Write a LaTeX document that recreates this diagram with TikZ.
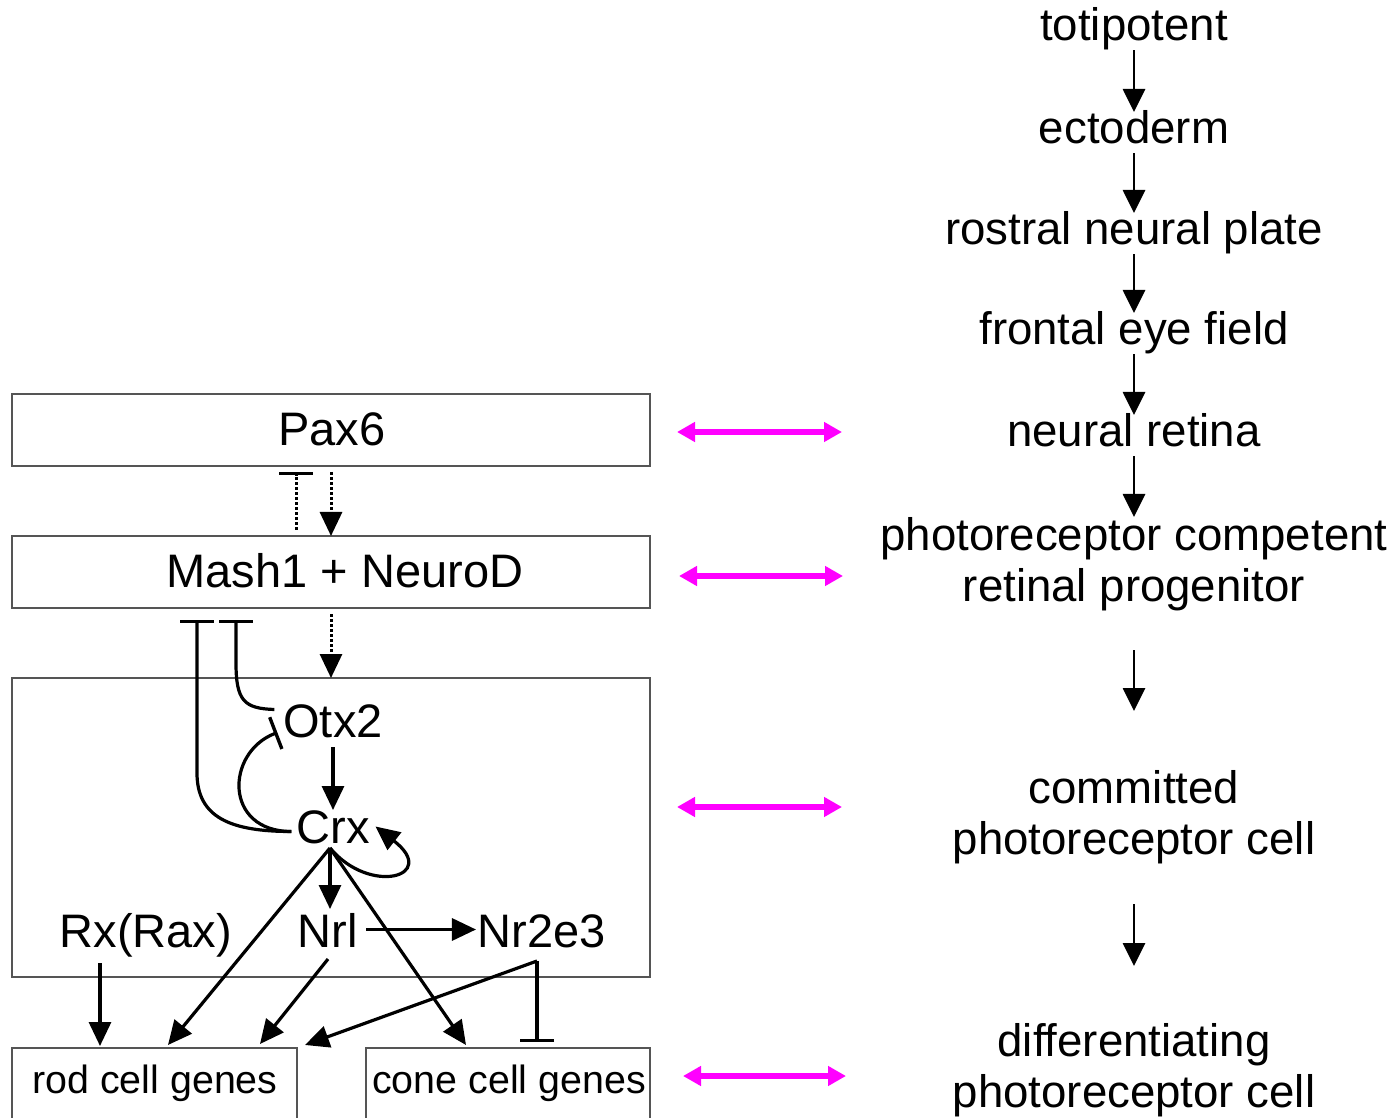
\documentclass[tikz,border=0pt]{standalone}
\usepackage{fontspec}
\setmainfont{Liberation Sans}
\usetikzlibrary{arrows.meta,calc}
\definecolor{linkpink}{RGB}{255,0,255}
\definecolor{boxgray}{RGB}{85,85,85}

\begin{document}
\begin{tikzpicture}[x=0.5pt,y=-0.5pt,
  lbl/.style={inner sep=0pt, outer sep=0pt, text height=16.5pt, text depth=5pt,
    font=\fontsize{23.5}{26}\selectfont},
  stagelbl/.style={inner sep=0pt, outer sep=0pt, text height=16pt, text depth=4.75pt,
    font=\fontsize{22.8}{25.5}\selectfont},
  stage2/.style={inner sep=0pt, outer sep=0pt, align=center,
    font=\fontsize{22.8}{25.5}\selectfont},
  small/.style={inner sep=0pt, outer sep=0pt, text height=14pt, text depth=4pt,
    font=\fontsize{19.7}{22}\selectfont},
  gbox/.style={draw=boxgray, line width=0.8pt, inner sep=0pt, outer sep=0pt,
    minimum width=319pt},
  arr/.style={line width=1.6pt, -{Triangle[length=12pt,width=11pt]}},
  stagearr/.style={line width=1.4pt, -{Triangle[length=11.5pt,width=11pt]}},
  inhib/.style={line width=1.6pt, -{Bar[width=17pt,line width=1.7pt]}},
  dotarr/.style={line width=1.5pt, dash pattern=on 1.5pt off 1pt,
    -{Triangle[length=12pt,width=11pt]}},
  dotinhib/.style={line width=1.5pt, dash pattern=on 1.5pt off 1pt,
    -{Bar[width=17pt,line width=1.7pt]}},
  link/.style={draw=linkpink, line width=3pt,
    {Triangle[length=9pt,width=9.5pt]}-{Triangle[length=9pt,width=9.5pt]}},
]
\useasboundingbox (0,0) rectangle (1394,1118);

% ---- developmental stages (right column) ----
\node[stagelbl, anchor=base] (toti) at (1134,41)  {totipotent};
\node[stagelbl, anchor=base] (ecto) at (1134,144) {ectoderm};
\node[stagelbl, anchor=base] (rnp)  at (1134,245) {rostral neural plate};
\node[stagelbl, anchor=base] (fef)  at (1134,345) {frontal eye field};
\node[stagelbl, anchor=base] (nret) at (1134,447) {neural retina};
\node[stage2, anchor=north] (prc)  at (1134,517)  {photoreceptor competent\\retinal progenitor};
\node[stage2, anchor=north] (comm) at (1134,770)  {committed\\photoreceptor cell};
\node[stage2, anchor=north] (diff) at (1134,1023) {differentiating\\photoreceptor cell};

\draw[stagearr] (toti) -- (ecto);
\draw[stagearr] (ecto) -- (rnp);
\draw[stagearr] (rnp) -- (fef);
\draw[stagearr] (fef) -- (nret);
\draw[stagearr] (nret) -- (prc);
\draw[stagearr, shorten <=19.75pt, shorten >=29.5pt] (prc) -- (comm);
\draw[stagearr, shorten <=20.25pt, shorten >=28.5pt] (comm) -- (diff);

% ---- gene regulatory boxes (left column) ----
\node[gbox, minimum height=36pt] (pax6) at (331,430) {};
\node[lbl, anchor=base] (pax6t) at (332,446) {Pax6};
\node[gbox, minimum height=36pt] (mash) at (331,572) {};
\node[lbl, anchor=base] (masht) at (345,588) {Mash1 + NeuroD};
\node[gbox, minimum height=149.5pt] (grn) at (331,827.5) {};
\node[lbl, anchor=base] (otx) at (333,737) {Otx2};
\node[lbl, anchor=base] (crx) at (333,843) {Crx};
\node[lbl, anchor=base] (rx)  at (146,947) {Rx(Rax)};
\node[lbl, anchor=base] (nrl) at (328,947) {Nrl};
\node[lbl, anchor=base] (nr2) at (542,947) {Nr2e3};
\node[gbox, minimum width=142.5pt, minimum height=40pt] (rod) at (154.5,1088) {};
\node[small, anchor=base] (rodt) at (155,1093) {rod cell genes};
\node[gbox, minimum width=142pt, minimum height=40pt] (cone) at (508,1088) {};
\node[small, anchor=base] (conet) at (509,1093) {cone cell genes};

% Pax6 <-> Mash1/NeuroD
\draw[dotarr] ([yshift=-3pt]pax6.south) -- (mash.north);
\draw[dotinhib] ([xshift=-17.5pt,yshift=3pt]mash.north) -- ([xshift=-17.5pt,yshift=-3pt]pax6.south);
\draw[dotarr] ([yshift=-3pt]mash.south) -- (grn.north);

% repression of Mash1/NeuroD and Otx2
\draw[inhib] ($(otx.west)+(-9,-16)$) .. controls +(-30,-1) and +(0,38) ..
  ($(mash.south)+(-95,55)$) -- ($(mash.south)+(-95,12)$);
\draw[inhib] ($(crx.west)+(-5,0)$) .. controls +(-60,0) and +(0,45) ..
  ($(mash.south)+(-134,165)$) -- ($(mash.south)+(-134,12)$);
\draw[inhib] ($(crx.west)+(-5,0)$) .. controls +(-68,0) and +(-52,20) ..
  ($(otx.west)+(-6,7)$);

% Otx2 -> Crx and Crx targets
\coordinate (crxo) at ($(crx.south)+(-3,-5)$);
\draw[arr] (otx.south) -- (crx.north);
\draw[arr] (crxo) .. controls +(40,48) and +(64,50) .. ($(crx.east)+(6,-5)$);
\draw[arr, shorten >=2.5pt] (crxo) -- (crxo |- nrl.north);
\draw[arr] (crxo) -- ($(rod.north west)+(156,-3)$);
\draw[arr] (crxo) -- ($(cone.north west)+(100,-3)$);
\draw[arr] ($(nrl.south)+(0,2)$) -- ($(rod.north west)+(248,-4)$);
\draw[arr] ($(nrl.east)+(8,-6)$) -- ($(nr2.west)+(-2,-6)$);
\coordinate (nrb) at ($(nr2.south)+(-5,4)$);
\draw[arr] (nrb) -- ($(rod.north east)+(8,-3)$);
\draw[inhib] (nrb) -- ($(nrb |- cone.north)+(0,-6)$);
\draw[arr] ($(rx.south)+(-46,6)$) -- ($(rx.south |- rod.north)+(-46,-2)$);

% correspondence between regulators and stages
\coordinate (l1a) at (677,432);  \coordinate (l1b) at (842,432);
\coordinate (l2a) at (679,576);  \coordinate (l2b) at (843,576);
\coordinate (l3a) at (677,807);  \coordinate (l3b) at (842,807);
\coordinate (l4a) at (683,1076); \coordinate (l4b) at (846,1076);
\draw[link] (l1a) -- (l1b);
\draw[link] (l2a) -- (l2b);
\draw[link] (l3a) -- (l3b);
\draw[link] (l4a) -- (l4b);
\end{tikzpicture}
\end{document}
